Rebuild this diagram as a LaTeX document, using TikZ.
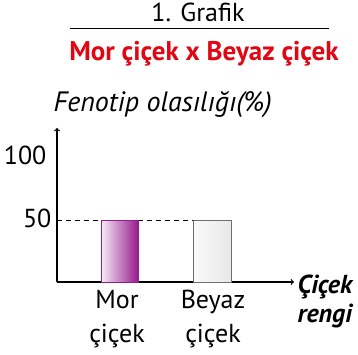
\documentclass[tikz,border=0pt]{standalone}
\usepackage{fontspec}
\setmainfont{PT Sans}
\definecolor{titlered}{RGB}{226,6,19}
\definecolor{morpurple}{RGB}{150,28,140}
\definecolor{morlight}{RGB}{246,236,246}
\definecolor{barline}{RGB}{110,110,110}
\begin{document}
\begin{tikzpicture}[x=1pt,y=-1pt,line width=1.2pt,
  lbl/.style={font=\fontsize{26}{34}\selectfont,inner sep=0pt}]

\useasboundingbox (0,0) rectangle (358,355);

% heading
\node [lbl,anchor=base] (title) at (198,22) {1. Grafik};
\draw [line width=1pt] (70,29) -- (329,29);
\node [lbl,anchor=base,text=titlered,font=\fontsize{27}{34}\selectfont\bfseries] (cross) at (204,61) {Mor çiçek x Beyaz çiçek};

% axes
\coordinate (O) at (57,282);
\coordinate (ytip) at (57,128);
\coordinate (xtip) at (294,282);
\draw [->] (O) -- (ytip);
\draw [->] (O) -- (xtip);
\node [lbl,anchor=base west,font=\fontsize{28}{34}\selectfont\itshape] (ylabel) at (53,112) {Fenotip olasılığı(\%)};
\node [lbl,anchor=base west,align=left,font=\fontsize{26}{29}\selectfont\bfseries\itshape] (xlabel) at (297,322) {Çiçek\\rengi};
\node [lbl,anchor=base east] (hundred) at (47,165) {100};
\node [lbl,anchor=base east] (fifty) at (52,227) {50};

% 50 line
\coordinate (half) at (57,220);
\coordinate (halfend) at (231,220);
\draw [line width=0.9pt,dash pattern=on 5pt off 4pt] (half) -- (halfend);

% bars
\shade [draw=morpurple,line width=0.8pt,left color=morlight,right color=morpurple] (101,220) rectangle (138,282);
\shade [draw=barline,line width=0.8pt,left color=white!96!gray,right color=white!82!gray] (193,220) rectangle (231,282);

% bar labels
\node [lbl,anchor=base,align=center] (mor) at (117,342) {Mor\\çiçek};
\node [lbl,anchor=base,align=center] (beyaz) at (213,342) {Beyaz\\çiçek};

\end{tikzpicture}
\end{document}
